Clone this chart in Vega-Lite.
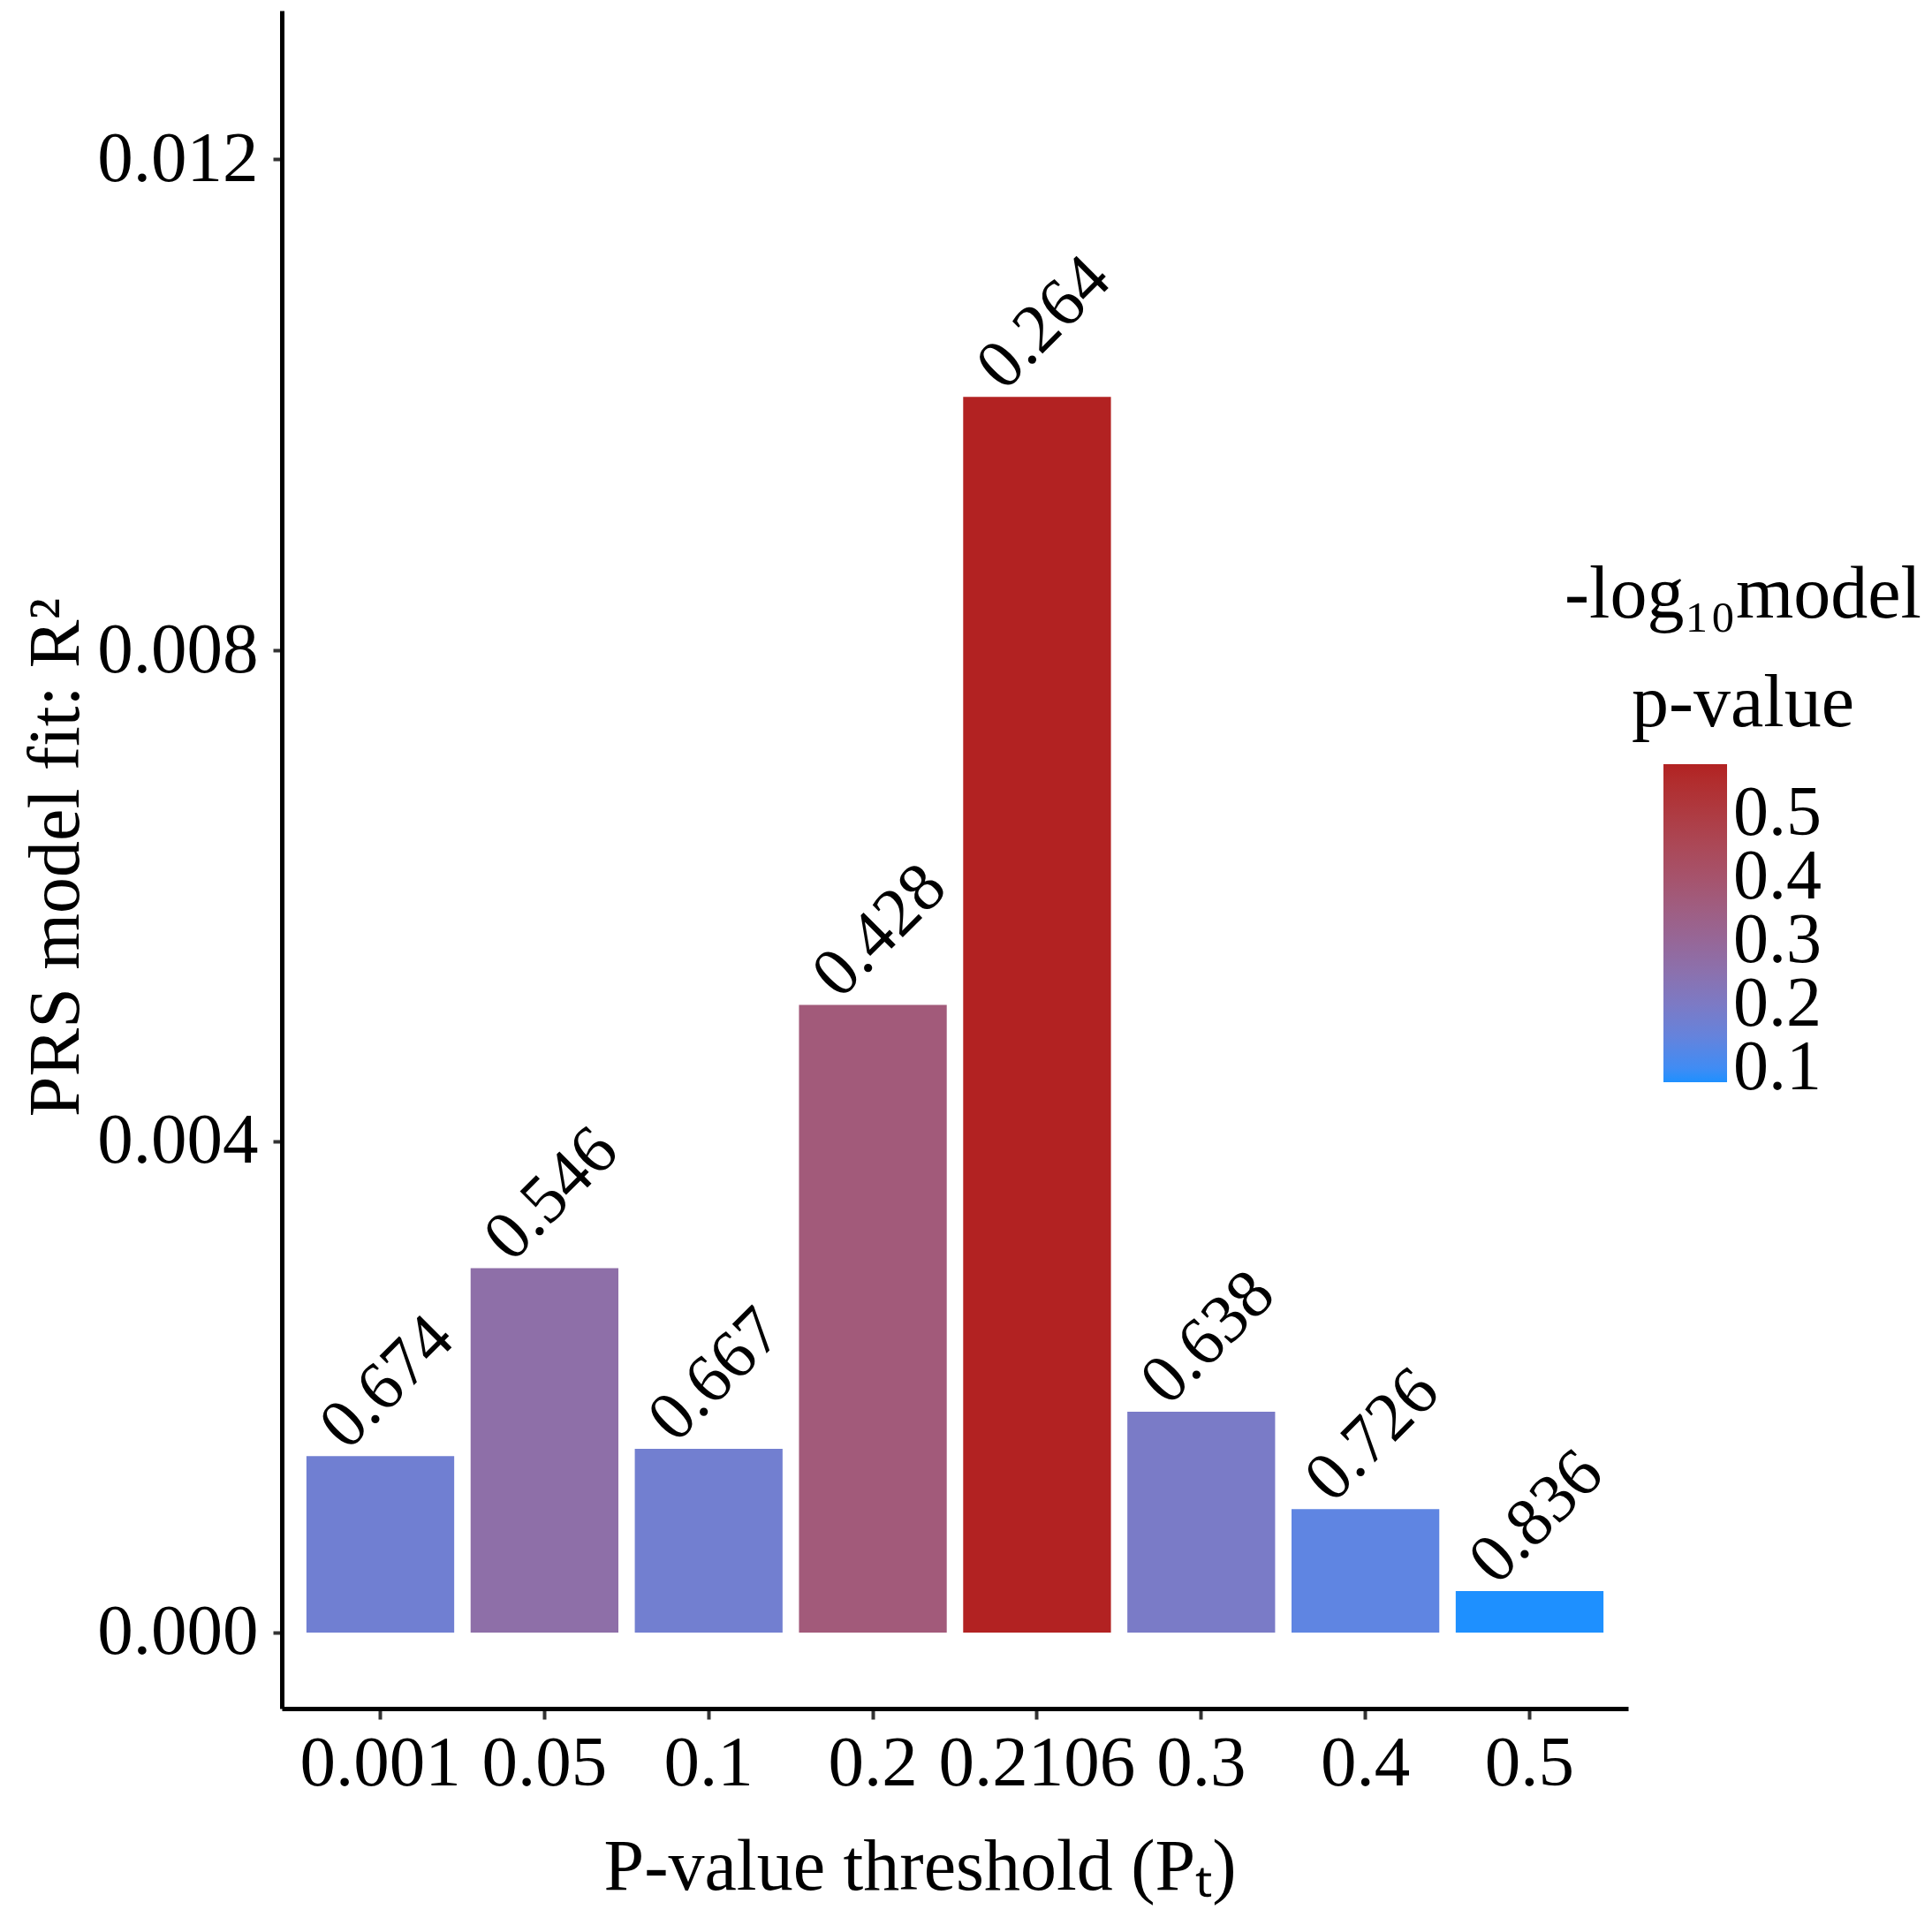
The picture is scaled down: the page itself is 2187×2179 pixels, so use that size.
{
  "$schema": "https://vega.github.io/schema/vega-lite/v6.json",
  "width": 1524,
  "height": 1922,
  "autosize": {"type": "none"},
  "padding": {"left": 319, "top": 12, "right": 344, "bottom": 245},
  "background": "white",
  "config": {
    "view": {"stroke": null},
    "font": "Liberation Serif"
  },
  "data": {
    "values": [
      {"threshold": "0.001", "r2": 0.001436, "p": 0.674, "nlp": 0.1713},
      {"threshold": "0.05", "r2": 0.002968, "p": 0.546, "nlp": 0.2628},
      {"threshold": "0.1", "r2": 0.001496, "p": 0.667, "nlp": 0.1759},
      {"threshold": "0.2", "r2": 0.005112, "p": 0.428, "nlp": 0.3686},
      {"threshold": "0.2106", "r2": 0.010064, "p": 0.264, "nlp": 0.5784},
      {"threshold": "0.3", "r2": 0.001799, "p": 0.638, "nlp": 0.1952},
      {"threshold": "0.4", "r2": 0.001005, "p": 0.726, "nlp": 0.1391},
      {"threshold": "0.5", "r2": 0.000338, "p": 0.836, "nlp": 0.0778}
    ]
  },
  "encoding": {
    "x": {
      "field": "threshold",
      "type": "nominal",
      "sort": null,
      "scale": {"paddingInner": 0.1, "paddingOuter": 0.15},
      "axis": {
        "title": "P-value threshold (Pₜ)",
        "labelAngle": 0,
        "labelFontSize": 81,
        "labelColor": "black",
        "labelLimit": 500,
        "labelPadding": 10,
        "tickSize": 12,
        "tickWidth": 4,
        "tickColor": "#333333",
        "domainColor": "black",
        "domainWidth": 5,
        "titleFontSize": 82,
        "titleFontWeight": "normal",
        "titleColor": "black",
        "titleX": 722,
        "titleY": 204,
        "titleBaseline": "alphabetic",
        "titleAlign": "center"
      }
    },
    "y": {
      "field": "r2",
      "type": "quantitative",
      "scale": {"domain": [-0.000619, 0.013209], "nice": false, "zero": false},
      "axis": {
        "title": "PRS model fit: R²",
        "values": [0, 0.004, 0.008, 0.012],
        "format": ".3f",
        "grid": false,
        "labelFontSize": 81,
        "labelColor": "black",
        "labelLimit": 500,
        "labelPadding": 17,
        "tickSize": 10,
        "tickWidth": 4,
        "tickColor": "#333333",
        "domainColor": "black",
        "domainWidth": 5,
        "titleFontSize": 82,
        "titleFontWeight": "normal",
        "titleColor": "black",
        "titleX": -231,
        "titleY": 958,
        "titleBaseline": "alphabetic",
        "titleAlign": "center",
        "titleAngle": 270
      }
    }
  },
  "layer": [
    {
      "mark": {"type": "bar"},
      "encoding": {
        "y2": {"datum": 0},
        "color": {
          "field": "nlp",
          "type": "quantitative",
          "scale": {
            "domain": [0.0778, 0.5784],
            "range": ["#1E90FF", "#B22222"],
            "interpolate": "lab"
          },
          "legend": {
            "orient": "none",
            "legendX": 1452,
            "legendY": 621,
            "direction": "vertical",
            "gradientLength": 360,
            "gradientThickness": 72,
            "values": [0.1, 0.2, 0.3, 0.4, 0.5],
            "format": ".1f",
            "labelFontSize": 80,
            "labelOffset": 7,
            "labelOverlap": false,
            "labelColor": "black",
            "labelLimit": 500,
            "title": ["-log₁₀model", "p-value"],
            "titleFontSize": 84,
            "titleFontWeight": "normal",
            "titleColor": "black",
            "titleLineHeight": 123,
            "titlePadding": 25,
            "titleAnchor": "middle",
            "titleAlign": "center",
            "titleLimit": 1000
          }
        }
      }
    },
    {
      "mark": {
        "type": "text",
        "angle": 315,
        "align": "left",
        "baseline": "alphabetic",
        "dx": -23,
        "dy": -30,
        "fontSize": 78,
        "font": "Liberation Serif"
      },
      "encoding": {
        "text": {"field": "p", "type": "quantitative", "format": ".3f"},
        "color": {"value": "black"}
      }
    }
  ]
}
